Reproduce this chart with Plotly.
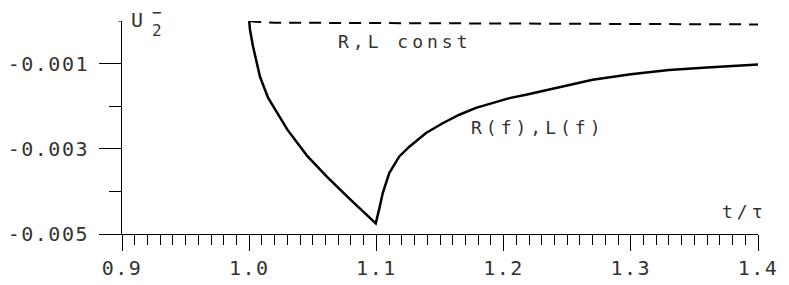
import plotly.graph_objects as go

# data
t_const = [1.0, 1.005, 1.02, 1.1, 1.2, 1.3, 1.4]
u_const = [0.0, -0.00002, -0.00004, -0.00005, -0.00006, -0.00007, -0.00008]

t_f = [1.0, 1.0006, 1.003, 1.0085, 1.0148, 1.0219, 1.03, 1.0454, 1.0612, 1.0792,
       1.0973, 1.0995, 1.102, 1.105, 1.1101, 1.118, 1.1259, 1.139, 1.1521, 1.1652,
       1.1783, 1.1914, 1.2045, 1.2176, 1.2412, 1.27, 1.30, 1.33, 1.36, 1.4]
u_f = [0.0, -0.0002, -0.0006, -0.00131, -0.0018, -0.00215, -0.00255, -0.00316, -0.00366, -0.00418,
       -0.00468, -0.00475, -0.00444, -0.00404, -0.00357, -0.00318, -0.00295, -0.00263, -0.0024, -0.0022,
       -0.00204, -0.00192, -0.00181, -0.00173, -0.00157, -0.00138, -0.00125, -0.00115, -0.00109, -0.00102]

y_major = [-0.005, -0.003, -0.001]
y_major_text = ["-0.005", "-0.003", "-0.001"]
y_minor = [-0.004, -0.002]

FONT = "DejaVu Sans Mono"
TXT = "#333"

fig = go.Figure()
fig.add_trace(go.Scatter(x=t_const, y=u_const, mode="lines", cliponaxis=False,
                         line=dict(color="black", width=2, dash="12px,8px"), showlegend=False))
fig.add_trace(go.Scatter(x=t_f, y=u_f, mode="lines", cliponaxis=False,
                         line=dict(color="black", width=2.5), showlegend=False))

fig.update_layout(
    width=789, height=285,
    margin=dict(l=122, r=31, t=21, b=51),
    plot_bgcolor="white", paper_bgcolor="white",
    font=dict(family=FONT, size=20, color=TXT),
    xaxis=dict(range=[0.9, 1.4], showline=True, linecolor="black", linewidth=1,
               ticks="outside", ticklen=16, tickcolor="black", tickwidth=1,
               tick0=0.9, dtick=0.1, tickformat=".1f", showgrid=False, zeroline=False,
               automargin=False,
               minor=dict(ticks="outside", ticklen=10, dtick=0.01, tick0=0.9,
                          tickcolor="black", tickwidth=1, showgrid=False)),
    yaxis=dict(range=[-0.005, 0], showline=True, linecolor="black", linewidth=1,
               ticks="outside", ticklen=22, tickcolor="black", tickwidth=1,
               tickmode="array", tickvals=y_major, ticktext=y_major_text,
               ticklabelstandoff=6, showgrid=False, zeroline=False, automargin=False,
               minor=dict(ticks="outside", ticklen=12, tickmode="array", tickvals=y_minor,
                          tickcolor="black", tickwidth=1, showgrid=False)),
)

# short tick at the top of the y axis
fig.add_shape(type="line", xref="x domain", yref="y", x0=-4/636, x1=0, y0=0, y1=0,
              line=dict(color="black", width=1))

def label(x, y, text, size, ref="x"):
    fig.add_annotation(x=x, y=y, xref=ref if ref == "x" else "paper",
                       yref="y" if ref == "x" else "paper", text=text, showarrow=False,
                       xanchor="center", yanchor="middle",
                       font=dict(family=FONT, size=size, color=TXT))

label(1.1225, -0.00049, "R,L const", 18)
label(1.227, -0.0025, "R(f),L(f)", 18)
label(1.389, -0.00448, "t/τ", 18)
label(0.027, 1.007, "U", 20, ref="paper")
label(0.0575, 0.955, "2", 16, ref="paper")
label(0.0575, 1.040, "−", 16, ref="paper")

post = ("var s=document.createElement('style');"
        "s.textContent='html,body{margin:0;padding:0;overflow:hidden}"
        ".xtick text,.ytick text{letter-spacing:1.5px}"
        ".annotation-text{letter-spacing:4px}';"
        "document.head.appendChild(s);")
fig.write_html("out.html", post_script=post, config={"displayModeBar": False})
